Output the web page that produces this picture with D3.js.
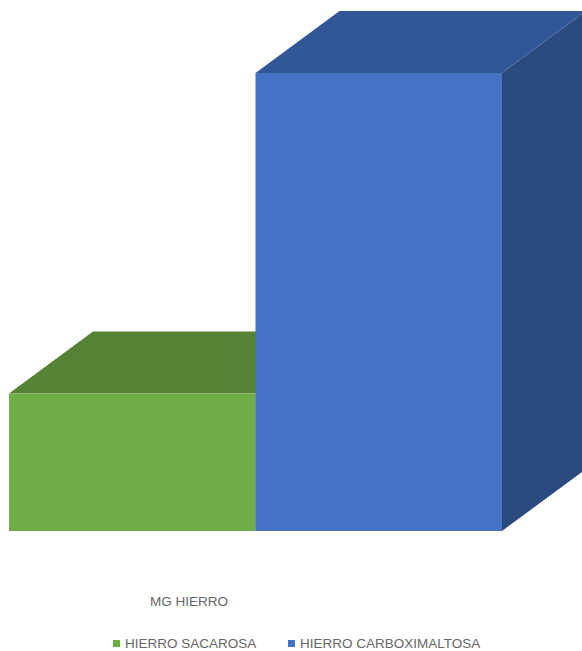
<!DOCTYPE html>
<html>
<head>
<meta charset="utf-8">
<script src="https://cdn.jsdelivr.net/npm/d3@7"></script>
<style>
  body { margin: 0; background: #fff; }
  svg { display: block; font-family: 'Liberation Sans', Arial, sans-serif; }
</style>
</head>
<body>
<svg class="chart"></svg>
<script>
var categories = ['HIERRO SACAROSA', 'HIERRO CARBOXIMALTOSA'];
var mgValues = [300, 1000];
var axisTitle = 'MG HIERRO';

var faceColors = {
  'HIERRO SACAROSA': {front: '#70ad47', top: '#568235', side: '#4f7a31'},
  'HIERRO CARBOXIMALTOSA': {front: '#4472c4', top: '#325797', side: '#2b4a80'},
};

var chartWidth = 582;
var chartHeight = 651;
var depthX = 84;
var depthY = -62;

var chart = d3.select('.chart').attr('width', chartWidth).attr('height', chartHeight);

var x = d3.scaleBand().domain(categories).range([9, 502]).padding(0);
var y = d3.scaleLinear().domain([0, 1000]).range([531, 73]);

var bars = categories.map((c, i) => ({name: c, value: mgValues[i]}));

function poly(pts) {
  return pts.map(p => p.join(',')).join(' ');
}

var g = chart.selectAll('g.bar')
    .data(bars)
    .join('g')
    .attr('class', 'bar');

g.each(function(d) {
  var x0 = x(d.name), x1 = x0 + x.bandwidth();
  var y0 = y(0), y1 = y(d.value);
  var sel = d3.select(this);
  // side face
  sel.append('polygon')
      .attr('points', poly([[x1, y1], [x1 + depthX, y1 + depthY], [x1 + depthX, y0 + depthY], [x1, y0]]))
      .attr('fill', faceColors[d.name].side);
  // top face
  sel.append('polygon')
      .attr('points', poly([[x0, y1], [x0 + depthX, y1 + depthY], [x1 + depthX, y1 + depthY], [x1, y1]]))
      .attr('fill', faceColors[d.name].top);
  // front face
  sel.append('rect')
      .attr('x', x0)
      .attr('y', y1)
      .attr('width', x1 - x0)
      .attr('height', y0 - y1)
      .attr('fill', faceColors[d.name].front);
});

// category axis title
chart.append('text')
    .attr('x', 150)
    .attr('y', 606)
    .attr('fill', '#666')
    .style('font-size', '13.5px')
    .text(axisTitle);

// legend
var legendX = [113, 288];
var legend = chart.selectAll('g.legend')
    .data(categories)
    .join('g')
    .attr('class', 'legend')
    .attr('transform', (d, i) => 'translate(' + legendX[i] + ',648)');

legend.append('rect')
    .attr('x', 0)
    .attr('y', -8)
    .attr('width', 7)
    .attr('height', 7)
    .attr('fill', d => faceColors[d].front);

legend.append('text')
    .attr('x', 12)
    .attr('y', 0)
    .attr('fill', '#666')
    .style('font-size', '13.5px')
    .text(d => d);
</script>
</body>
</html>
